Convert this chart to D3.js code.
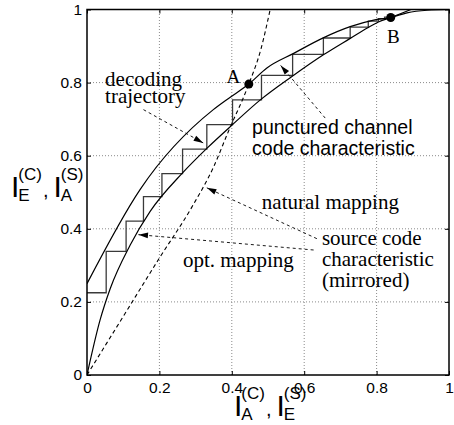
<!DOCTYPE html>
<html>
<head>
<meta charset="utf-8">
<script src="https://cdn.jsdelivr.net/npm/d3@7"></script>
<style>
  body { margin: 0; background: #fff; }
  text { fill: #000; }
</style>
</head>
<body>
<svg id="chart" width="454" height="425"></svg>
<script>
// Punctured channel code characteristic (upper solid curve)
const channelX = [0, 0.147, 0.349, 0.39, 0.447, 0.497, 0.571, 0.654, 0.727, 0.792, 0.839, 0.884, 0.94, 1];
const channelY = [0.25, 0.508, 0.726, 0.756, 0.796, 0.840, 0.880, 0.923, 0.953, 0.971, 0.978, 0.991, 0.998, 1];

// Source code characteristic, opt. mapping (lower solid curve)
const sourceX = [0, 0.036, 0.064, 0.119, 0.174, 0.264, 0.331, 0.402, 0.478, 0.568, 0.653, 0.727, 0.777, 0.805, 0.839, 0.895];
const sourceY = [0, 0.15, 0.236, 0.355, 0.447, 0.553, 0.62, 0.685, 0.752, 0.818, 0.876, 0.921, 0.951, 0.966, 0.978, 1.0];

// Source code characteristic, natural mapping (dashed)
const naturalX = [0, 0.1, 0.2, 0.29, 0.35, 0.39, 0.447, 0.48, 0.506];
const naturalY = [0, 0.16, 0.32, 0.46, 0.57, 0.665, 0.796, 0.89, 1.0];

// Decoding trajectory: x where each step ends, y of each level
const trajX = [0, 0.053, 0.108, 0.156, 0.207, 0.264, 0.331, 0.402, 0.482, 0.568, 0.653, 0.727, 0.777, 0.805, 0.822, 0.834];
const trajY = [0.225, 0.338, 0.421, 0.488, 0.551, 0.618, 0.685, 0.753, 0.820, 0.877, 0.922, 0.952, 0.968, 0.975, 0.979];

// Marked points
const pointNames = ["A", "B"];
const pointX = [0.447, 0.839];
const pointY = [0.796, 0.978];

const tickValues = [0, 0.2, 0.4, 0.6, 0.8, 1];
const tickLabels = ["0", "0.2", "0.4", "0.6", "0.8", "1"];

const width = 454;
const height = 425;
const margin = { top: 9.5, right: 5, bottom: 50, left: 87 };

const svg = d3.select("#chart");

const x = d3.scaleLinear().domain([0, 1]).range([margin.left, width - margin.right]);
const y = d3.scaleLinear().domain([0, 1]).range([height - margin.bottom, margin.top]);

const sans = "'Liberation Sans', Arial, Helvetica, sans-serif";
const serif = "'Liberation Serif', 'Times New Roman', serif";

// arrow marker
svg.append("defs").append("marker")
    .attr("id", "head")
    .attr("viewBox", "0 -5 12 10")
    .attr("refX", 12)
    .attr("refY", 0)
    .attr("markerUnits", "userSpaceOnUse")
    .attr("markerWidth", 12)
    .attr("markerHeight", 8)
    .attr("orient", "auto")
  .append("path")
    .attr("d", "M0,-3.6L12,0L0,3.6Z")
    .attr("fill", "#000")
    .attr("stroke", "none");

svg.append("clipPath").attr("id", "plot-clip")
  .append("rect")
    .attr("x", x(0)).attr("y", y(1))
    .attr("width", x(1) - x(0)).attr("height", y(0) - y(1));

// dotted grid
const grid = svg.append("g").attr("stroke", "#8a8a8a").attr("stroke-width", 1).attr("stroke-dasharray", "1,2");
tickValues.slice(1, -1).forEach(t => {
    grid.append("line").attr("x1", x(t)).attr("x2", x(t)).attr("y1", y(0)).attr("y2", y(1));
    grid.append("line").attr("x1", x(0)).attr("x2", x(1)).attr("y1", y(t)).attr("y2", y(t));
});

// axes with inward ticks
const fmt = (d, i) => tickLabels[i];
const axisStyle = g => {
    g.select(".domain").remove();
    g.selectAll("text").attr("font-family", sans).attr("font-size", 15.5).attr("fill", "#000");
    g.selectAll("line").attr("stroke", "#000").attr("stroke-width", 1);
};
svg.append("g").attr("transform", `translate(0,${y(0)})`)
    .call(d3.axisBottom(x).tickValues(tickValues).tickFormat(fmt).tickSizeInner(-4).tickSizeOuter(0).tickPadding(6.5))
    .call(axisStyle);
svg.append("g").attr("transform", `translate(${x(0)},0)`)
    .call(d3.axisLeft(y).tickValues(tickValues).tickFormat(fmt).tickSizeInner(-4).tickSizeOuter(0).tickPadding(5))
    .call(axisStyle);
svg.append("g").attr("transform", `translate(0,${y(1)})`)
    .call(d3.axisTop(x).tickValues(tickValues).tickFormat("").tickSizeInner(-4).tickSizeOuter(0))
    .call(axisStyle);
svg.append("g").attr("transform", `translate(${x(1)},0)`)
    .call(d3.axisRight(y).tickValues(tickValues).tickFormat("").tickSizeInner(-4).tickSizeOuter(0))
    .call(axisStyle);

const plot = svg.append("g").attr("clip-path", "url(#plot-clip)");

const line = d3.line()
    .x(d => x(d[0]))
    .y(d => y(d[1]))
    .curve(d3.curveMonotoneX);

// decoding trajectory (staircase)
let stairs = [[trajX[0], trajY[0]]];
trajY.forEach((v, i) => {
    stairs.push([trajX[i + 1], v]);
    if (i + 1 < trajY.length) stairs.push([trajX[i + 1], trajY[i + 1]]);
});
plot.append("path")
    .datum(stairs)
    .attr("fill", "none")
    .attr("stroke", "#3a3a3a")
    .attr("stroke-width", 1.3)
    .attr("d", d3.line().x(d => x(d[0])).y(d => y(d[1])));

plot.append("path")
    .datum(d3.zip(channelX, channelY))
    .attr("fill", "none")
    .attr("stroke", "#000")
    .attr("stroke-width", 1.2)
    .attr("d", line);

plot.append("path")
    .datum(d3.zip(sourceX, sourceY))
    .attr("fill", "none")
    .attr("stroke", "#000")
    .attr("stroke-width", 1.2)
    .attr("d", line);

plot.append("path")
    .datum(d3.zip(naturalX, naturalY))
    .attr("fill", "none")
    .attr("stroke", "#000")
    .attr("stroke-width", 1.1)
    .attr("stroke-dasharray", "4,3")
    .attr("d", line);

// frame
svg.append("rect")
    .attr("x", x(0)).attr("y", y(1))
    .attr("width", x(1) - x(0)).attr("height", y(0) - y(1))
    .attr("fill", "none")
    .attr("stroke", "#000")
    .attr("stroke-width", 1.5);

// points A and B
pointNames.forEach((n, i) => {
    svg.append("circle")
        .attr("cx", x(pointX[i]))
        .attr("cy", y(pointY[i]))
        .attr("r", 4.5)
        .attr("fill", "#000");
});
svg.append("text").attr("x", x(0.423)).attr("y", y(0.8)).attr("text-anchor", "end")
    .attr("font-family", serif).attr("font-size", 19).text(pointNames[0]);
svg.append("text").attr("x", x(0.829)).attr("y", y(0.907))
    .attr("font-family", serif).attr("font-size", 19).text(pointNames[1]);

// annotation text (data coords of left/baseline)
const notes = [
    { lines: ["decoding", "trajectory"], x: 0.05, y: 0.792, dy: 17, font: serif },
    { lines: ["punctured channel", "code characteristic"], x: 0.456, y: 0.66, dy: 21, font: sans },
    { lines: ["natural mapping"], x: 0.483, y: 0.455, dy: 21, font: serif },
    { lines: ["source code", "characteristic", "(mirrored)"], x: 0.649, y: 0.356, dy: 21, font: serif },
    { lines: ["opt. mapping"], x: 0.265, y: 0.296, dy: 21, font: serif }
];
notes.forEach(n => {
    const t = svg.append("text")
        .attr("x", x(n.x)).attr("y", y(n.y))
        .attr("font-family", n.font)
        .attr("font-size", n.font === sans ? 19.5 : 21);
    n.lines.forEach((l, i) => {
        t.append("tspan").attr("x", x(n.x)).attr("dy", i ? n.dy : 0).text(l);
    });
});

// annotation arrows [from, to] in data coords
const arrows = [
    [[0.156, 0.726], [0.321, 0.635]],
    [[0.658, 0.703], [0.535, 0.847]],
    [[0.635, 0.373], [0.331, 0.512]],
    [[0.626, 0.342], [0.142, 0.384]]
];
arrows.forEach(a => {
    svg.append("line")
        .attr("x1", x(a[0][0])).attr("y1", y(a[0][1]))
        .attr("x2", x(a[1][0])).attr("y2", y(a[1][1]))
        .attr("stroke", "#000")
        .attr("stroke-width", 0.9)
        .attr("stroke-dasharray", "3,3")
        .attr("marker-end", "url(#head)");
});

// axis labels: I with stacked sub/superscripts
function expLabel(x0, base, subs, sups) {
    let cx = x0;
    subs.forEach((s, i) => {
        const I = svg.append("text").attr("x", cx).attr("y", base)
            .attr("font-family", sans).attr("font-size", 30).text("I");
        cx += I.node().getComputedTextLength() - 1;
        const sp = svg.append("text").attr("x", cx).attr("y", base - 17)
            .attr("font-family", sans).attr("font-size", 17).text(sups[i]);
        const sb = svg.append("text").attr("x", cx).attr("y", base + 4)
            .attr("font-family", sans).attr("font-size", 17).text(s);
        cx += Math.max(sp.node().getComputedTextLength(), sb.node().getComputedTextLength());
        if (i < subs.length - 1) {
            const c = svg.append("text").attr("x", cx + 1).attr("y", base)
                .attr("font-family", sans).attr("font-size", 20).text(",");
            cx += c.node().getComputedTextLength() + 6;
        }
    });
}
expLabel(11, 197, ["E", "A"], ["(C)", "(S)"]);
expLabel(234, 416, ["A", "E"], ["(C)", "(S)"]);
</script>
</body>
</html>
